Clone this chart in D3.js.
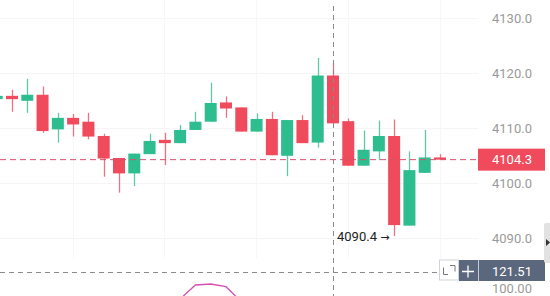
<!DOCTYPE html>
<html>
<head>
<meta charset="utf-8">
<script src="https://cdn.jsdelivr.net/npm/d3@7"></script>
<style>
	body{margin:0;background:#fff;overflow:hidden;}
	svg{display:block;font-family:Roboto, "Noto Sans", sans-serif;}
</style>
</head>
<body>
<div class="container"></div>
<script>
//candles, index 0 is cut off at the left edge
const opens  = [4115.3,4115.9,4115.0,4116.1,4109.8,4111.9,4111.2,4108.6,4104.6,4101.8,4105.3,4107.9,4107.3,4109.7,4111.2,4114.7,4113.8,4109.4,4111.7,4105.0,4111.5,4107.4,4119.6,4111.3,4103.2,4105.8,4108.6,4092.3,4101.9,4104.7];
const highs  = [4115.9,4117.0,4119.0,4117.6,4112.8,4112.6,4112.8,4109.0,4104.6,4105.4,4109.0,4109.2,4110.6,4113.0,4118.3,4115.8,4113.8,4112.7,4113.0,4111.5,4112.4,4122.8,4121.9,4111.8,4109.6,4111.4,4111.6,4105.8,4109.7,4105.3];
const lows   = [4115.3,4113.0,4112.8,4109.2,4107.4,4108.5,4108.0,4101.2,4098.3,4099.5,4105.3,4103.3,4107.3,4109.7,4111.2,4111.9,4109.4,4109.4,4105.1,4101.3,4107.3,4106.5,4110.9,4103.2,4103.2,4104.2,4090.4,4092.3,4101.9,4104.3];
const closes = [4115.9,4115.3,4116.1,4109.5,4111.9,4110.7,4108.5,4104.5,4101.8,4105.4,4107.7,4107.3,4109.7,4111.2,4114.6,4113.6,4109.4,4111.7,4105.1,4111.5,4107.3,4119.6,4110.9,4103.2,4106.1,4108.6,4092.4,4102.4,4104.7,4104.3];

//price axis
const priceTicks = [4090, 4100, 4110, 4120, 4130];
const lastPrice = 4104.3;
const lowMark = 4090.4;
const crossIndex = 21.97;

//lower pane (indicator line, only the part that shows)
const indIndex = [11, 12, 13, 14, 15, 16];
const indValues = [70, 85.7, 103.9, 105.2, 101.7, 82];
const indTick = 100;
const indCross = 121.51;

const W = 550, H = 296;
const upColor = '#2ebd8e', downColor = '#ef4b5c';
const upWick = '#5ccaa5', downWick = '#ec7482';

const svg = d3.select('.container')
	.append('svg')
	.attr('width', W)
	.attr('height', H);

const x = d3.scaleLinear().domain([0, 29]).range([-3.3, 440]);
const y = d3.scaleLinear().domain([4090, 4130]).range([238.3, 18.3]);
const yInd = d3.scaleLinear().domain([100, 121.51]).range([288, 271.5]);
const bodyW = 12;

//faint grid
const grid = svg.append('g').attr('class','grid');
grid.selectAll('.hgrid')
	.data(priceTicks)
	.enter()
	.append('line')
	.attr('x1', 0).attr('x2', 478)
	.attr('y1', function(d){ return Math.round(y(d)) + 0.5 })
	.attr('y2', function(d){ return Math.round(y(d)) + 0.5 })
	.style('stroke', '#f5f5f5');
grid.selectAll('.vgrid')
	.data([5, 11, 17, 23, 29])
	.enter()
	.append('line')
	.attr('x1', function(d){ return Math.round(x(d - 0.03)) + 0.5 })
	.attr('x2', function(d){ return Math.round(x(d - 0.03)) + 0.5 })
	.attr('y1', 0).attr('y2', 258)
	.style('stroke', '#f7f7f7');

const candleData = opens.map(function(o, i){
	return {i: i, o: o, h: highs[i], l: lows[i], c: closes[i]};
});

//wicks
svg.selectAll('.wick')
	.data(candleData)
	.enter()
	.append('line')
	.attr('class','wick')
	.attr('x1', function(d){ return Math.round(x(d.i)) + 0.5 })
	.attr('x2', function(d){ return Math.round(x(d.i)) + 0.5 })
	.attr('y1', function(d){ return y(d.h) })
	.attr('y2', function(d){ return y(d.l) })
	.style('stroke', function(d){ return d.c >= d.o ? upWick : downWick })
	.style('stroke-width', 1.3);

//bodies
svg.selectAll('.body')
	.data(candleData)
	.enter()
	.append('rect')
	.attr('class','body')
	.attr('x', function(d){ return x(d.i) - bodyW/2 })
	.attr('width', bodyW)
	.attr('y', function(d){ return y(Math.max(d.o, d.c)) })
	.attr('height', function(d){ return Math.max(2, Math.abs(y(d.o) - y(d.c))) })
	.style('fill', function(d){ return d.c >= d.o ? upColor : downColor });

//last price line
svg.append('line')
	.attr('x1', 0).attr('x2', 478)
	.attr('y1', y(lastPrice)).attr('y2', y(lastPrice))
	.style('stroke', '#d9506a')
	.style('stroke-width', 1)
	.style('stroke-dasharray', '6,4');

//crosshair
svg.append('line')
	.attr('x1', Math.round(x(crossIndex)) + 0.5).attr('x2', Math.round(x(crossIndex)) + 0.5)
	.attr('y1', 6).attr('y2', H)
	.style('stroke', '#8a8a8a')
	.style('stroke-dasharray', '5,4');
svg.append('line')
	.attr('x1', 0).attr('x2', 440)
	.attr('y1', Math.round(yInd(indCross)) + 0.5).attr('y2', Math.round(yInd(indCross)) + 0.5)
	.style('stroke', '#8a8a8a')
	.style('stroke-dasharray', '5,4');

//indicator line
const indLine = d3.line()
	.x(function(d){ return x(d[0]) })
	.y(function(d){ return yInd(d[1]) });
svg.append('path')
	.datum(indIndex.map(function(d, i){ return [d, indValues[i]] }))
	.attr('d', indLine)
	.style('fill', 'none')
	.style('stroke', '#d64fb3')
	.style('stroke-width', 1.3);

//price labels
svg.selectAll('.tick')
	.data(priceTicks)
	.enter()
	.append('text')
	.attr('x', 492)
	.attr('y', function(d){ return y(d) })
	.attr('dy', '0.35em')
	.style('font-size', '13px')
	.style('fill', '#9a9a9a')
	.text(function(d){ return d3.format('.1f')(d) });

svg.append('text')
	.attr('x', 492)
	.attr('y', yInd(indTick))
	.attr('dy', '0.35em')
	.style('font-size', '13px')
	.style('fill', '#9a9a9a')
	.text(d3.format('.2f')(indTick));

//low annotation
const lowText = svg.append('text')
	.attr('x', 337)
	.attr('y', y(lowMark))
	.attr('dy', '0.35em')
	.style('font-size', '13px')
	.style('fill', '#222');
lowText.append('tspan').text(d3.format('.1f')(lowMark) + ' ');
lowText.append('tspan')
	.style('font-family', '"DejaVu Sans"')
	.style('font-size', '11px')
	.text('\u2192');

//last price tag
svg.append('rect')
	.attr('x', 478).attr('y', y(lastPrice) - 11)
	.attr('width', 67).attr('height', 22)
	.style('fill', '#ef4b5c');
svg.append('text')
	.attr('x', 492)
	.attr('y', y(lastPrice))
	.attr('dy', '0.35em')
	.style('font-size', '13px')
	.style('fill', '#fff')
	.text(d3.format('.1f')(lastPrice));

//crosshair tag in lower pane
const cy = yInd(indCross);
svg.append('rect')
	.attr('x', 439.5).attr('y', cy - 11.5)
	.attr('width', 19).attr('height', 20)
	.style('fill', '#fff')
	.style('stroke', '#cfd3da');
svg.append('path')
	.attr('d', `M443.5,${cy-4}V${cy+3}H448 M450,${cy-6}H455V${cy}`)
	.style('fill', 'none')
	.style('stroke', '#777');
svg.append('rect')
	.attr('x', 459).attr('y', cy - 11.5)
	.attr('width', 86).attr('height', 21)
	.style('fill', '#5b677d');
svg.append('line')
	.attr('x1', 478.5).attr('x2', 478.5)
	.attr('y1', cy - 11.5).attr('y2', cy + 9.5)
	.style('stroke', '#c5cad3');
svg.append('path')
	.attr('d', `M462,${cy}H474 M468,${cy-6}V${cy+6}`)
	.style('stroke', '#fff')
	.style('stroke-width', 1.3);
svg.append('text')
	.attr('x', 492)
	.attr('y', cy)
	.attr('dy', '0.35em')
	.style('font-size', '13px')
	.style('fill', '#fff')
	.text(d3.format('.2f')(indCross));

//side tab
svg.append('rect')
	.attr('x', 544).attr('y', 223)
	.attr('width', 8).attr('height', 40).attr('rx', 2)
	.style('fill', '#e2e2e2');
svg.append('path')
	.attr('d', 'M546,239L550,242.5L546,246Z')
	.style('fill', '#333');
</script>
</body>
</html>
